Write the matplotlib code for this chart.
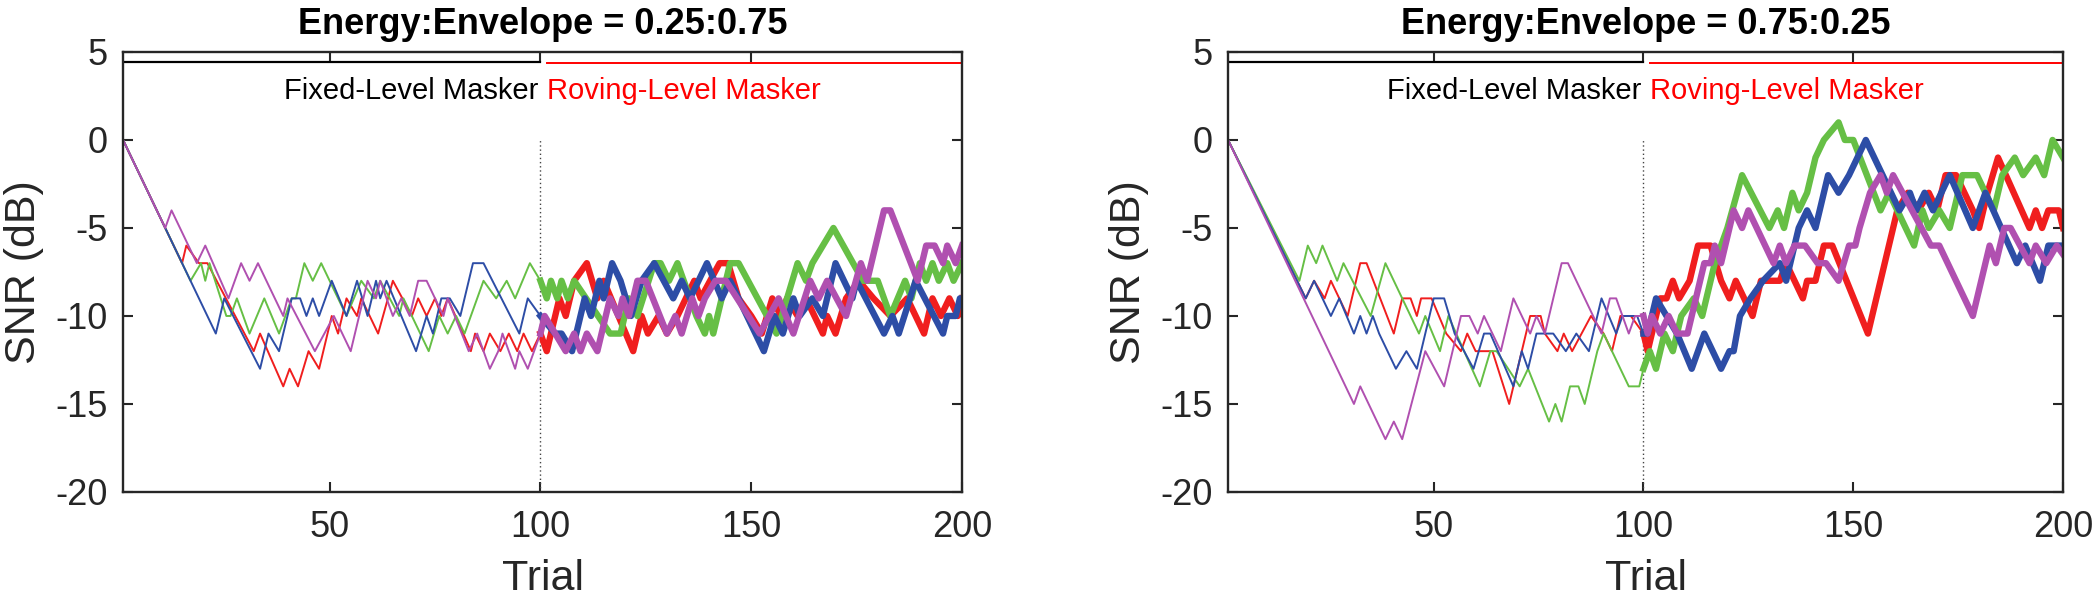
import numpy as np
import matplotlib
matplotlib.use('Agg')
import matplotlib.pyplot as plt

plt.rcParams['font.family'] = ['Liberation Sans', 'DejaVu Sans']
plt.rcParams['axes.unicode_minus'] = False

# staircase tracks, (trial, SNR dB) at the turning points
# left panel: Energy:Envelope = 0.25:0.75
L_MAGENTA = [(1, 0), (11, -5), (12.5, -4), (18.5, -7), (20.5, -6), (26, -9), (29, -7), (31, -8),
             (33, -7), (37, -9), (39, -10), (40, -9), (46.5, -12), (51, -10), (55, -12), (59, -8),
             (61, -9), (62, -8), (65, -10), (67, -9), (69, -10), (71, -8), (73, -8), (77, -10),
             (78, -9), (83, -12), (85, -11), (88, -13), (90, -12), (91, -11), (94, -13), (95, -12),
             (97, -13), (100, -11), (101, -10), (106, -12), (108, -11), (109.5, -12), (111, -11),
             (113.5, -12), (116.5, -9), (118.5, -10), (119.5, -9), (121, -10), (123, -8), (125, -8),
             (130, -11), (132, -10), (133.5, -11), (136, -9), (137.5, -10), (139, -9), (141.5, -8),
             (144, -8), (152, -11), (156.5, -9), (160, -11), (164, -8), (166, -9), (168, -8),
             (172.5, -10), (176, -7), (177.5, -8), (181.5, -4), (183, -4), (189.5, -8), (191.5, -6),
             (193.5, -6), (195.5, -7), (196.5, -6), (198.5, -7), (200, -6)]
L_RED = [(1, 0), (15, -7), (16, -6), (19, -7), (21, -7), (32, -12), (33.5, -11), (39, -14),
         (40.5, -13), (42.5, -14), (45, -12), (47.5, -13), (50.5, -10), (52, -11), (54, -9),
         (56.5, -10), (57.5, -9), (61.5, -11), (65, -8), (69.5, -10), (71, -9), (73, -10), (75, -9),
         (76.5, -10), (78, -9), (83.5, -12), (84.5, -11), (86.5, -12), (88, -11), (90.5, -12),
         (92.5, -11), (94.5, -12), (96, -11), (98, -12), (100, -11), (101.5, -12), (104.5, -9),
         (106, -10), (108, -8), (111, -7), (113.5, -9), (115, -8), (122, -12), (124, -10),
         (125.5, -11), (128, -10), (130, -11), (132.5, -10), (136.5, -8), (138, -9), (142.5, -7),
         (144.5, -7), (147, -9), (150, -10), (152.5, -11), (155, -9), (157, -10), (158.5, -9),
         (161, -10), (163, -9), (167, -11), (168, -10), (170, -11), (172.5, -9), (175.5, -8),
         (179, -9), (183, -10), (187, -9), (191, -11), (193, -9), (195, -10), (197, -9),
         (199, -10), (200, -9)]
L_BLUE = [(1, 0), (23, -11), (25, -9), (33.5, -13), (35.5, -11), (38, -12), (41, -9), (43, -9),
          (44.5, -10), (46, -9), (47.5, -10), (50.5, -8), (54, -10), (56.5, -8), (59, -10), (61, -8),
          (62, -9), (63.5, -8), (70.5, -12), (73, -10), (74.5, -11), (76.5, -9), (78.5, -9),
          (81, -10), (84, -7), (86.5, -7), (95, -11), (97, -9), (100, -10), (103.5, -11),
          (105, -11), (107.5, -12), (110.5, -9), (112, -10), (114, -8), (115, -9), (117, -7),
          (119, -8), (121.5, -10), (124, -8), (127, -7), (131.5, -9), (133.5, -8), (135.5, -9),
          (139.5, -7), (143, -9), (145, -8), (153, -12), (155.5, -10), (157.5, -11), (160, -9),
          (161.5, -10), (164.5, -9), (167, -10), (170, -7), (174, -9), (175, -8), (181.5, -11),
          (183.5, -10), (185, -11), (189, -8), (195.5, -11), (196.5, -10), (198.5, -10),
          (199.5, -9), (200, -9)]
L_GREEN = [(1, 0), (17, -8), (19.5, -7), (20.5, -8), (21.5, -7), (25.5, -10), (26.5, -10), (28, -9),
           (31, -11), (34.5, -9), (38, -11), (41, -9), (42, -9), (44, -7), (46, -8), (48, -7),
           (54, -10), (57.5, -8), (60.5, -9), (62, -8), (66.5, -10), (67.5, -9), (73.5, -12),
           (76, -10), (78, -11), (80, -10), (82, -11), (86.5, -8), (89.5, -9), (92, -8), (94, -9),
           (97.5, -7), (100, -8), (101.5, -9), (102.5, -8), (104, -9), (105, -8), (106.5, -9),
           (108, -8), (116.5, -11), (119, -11), (121, -9), (123, -10), (127, -7), (128.5, -7),
           (130.5, -8), (132.5, -7), (137, -10), (139, -11), (140, -10), (141, -11), (145, -7),
           (147, -7), (156, -11), (161, -7), (163, -8), (164.5, -7), (169.5, -5), (176.5, -8),
           (180, -8), (183, -10), (186.5, -8), (188, -9), (190, -7), (191.5, -8), (193, -7),
           (194.5, -8), (196.5, -7), (198, -8), (200, -7)]

# right panel: Energy:Envelope = 0.75:0.25
R_MAGENTA = [(1, 0), (31, -15), (32.5, -14), (38.5, -17), (40.5, -16), (42.5, -17), (48, -12),
             (52.5, -14), (56.5, -10), (58.5, -10), (60.5, -11), (62, -10), (66, -12), (69, -9),
             (73, -11), (74.5, -10), (76.5, -11), (80.5, -7), (82, -7), (90, -11), (92, -9),
             (93.5, -9), (96.5, -11), (98, -10), (100, -10), (101, -11), (102, -10), (104, -11),
             (106, -10), (108, -11), (110.5, -11), (114.5, -7), (116, -7), (117, -6), (118.5, -7),
             (121.5, -4), (123.5, -5), (125, -4), (131, -7), (132.5, -6), (134, -7), (136, -6),
             (138.5, -6), (141.5, -7), (143.5, -7), (146.5, -8), (149, -6), (150.5, -6), (151.5, -5),
             (154, -3), (156.5, -2), (158, -3), (159.5, -2), (168.5, -6), (170.5, -6), (178.5, -10),
             (182.5, -6), (184, -7), (186, -5), (187.5, -5), (192, -7), (193.5, -6), (196, -7),
             (198.5, -6), (200, -6.5)]
R_RED = [(1, 0), (19.5, -9), (21.5, -8), (24, -9), (25.5, -8), (29.5, -10), (32.5, -7), (34, -7),
         (40.5, -11), (42.5, -9), (44.5, -9), (46, -10), (47, -9), (49.5, -9), (53, -11), (56.5, -12),
         (58, -11), (60, -12), (64, -12), (68, -15), (73, -10), (75.5, -10), (76.5, -11),
         (79.5, -12), (81, -11), (83, -12), (87.5, -10), (90.5, -11), (92.5, -12), (94.5, -10),
         (97, -10), (100, -11), (101, -12), (104, -9), (105.5, -9), (107, -8), (108.5, -9),
         (111, -8), (113, -6), (116, -6), (118.5, -8), (120.5, -9), (122, -8), (124, -9),
         (126, -10), (128, -8), (132.5, -8), (134, -7), (136, -8), (138, -9), (139, -8), (141, -8),
         (143, -6), (145, -6), (153.5, -11), (157.5, -7), (160.5, -4), (163, -3), (165.5, -4),
         (168, -3), (170, -4), (172, -2), (174.5, -2), (178.5, -4), (180, -5), (182, -3),
         (184.5, -1), (192, -5), (193.5, -4), (195, -5), (196.5, -4), (199, -4), (200, -5)]
R_GREEN = [(1, 0), (18, -8), (20, -6), (22, -7), (23.5, -6), (27, -8), (28.5, -7), (35, -10),
           (38.5, -7), (46.5, -11), (48, -10), (51.5, -12), (53.5, -10), (61, -14), (63.5, -12),
           (65, -12), (70.5, -14), (72.5, -13), (77.5, -16), (79, -15), (80.5, -16), (82.5, -14),
           (84.5, -14), (86, -15), (89, -12), (90.5, -11), (96.5, -14), (99, -14), (100, -13),
           (101.5, -12), (103, -13), (105, -11), (107, -12), (109, -10), (112, -9), (114, -10),
           (117, -7), (120, -5), (123.5, -2), (130, -5), (132, -4), (133.5, -5), (135.5, -3),
           (137, -4), (139, -3), (141, -1), (143, 0), (146.5, 1), (148, 0), (150, 0), (156.5, -4),
           (158.5, -3), (164.5, -6), (166.5, -4), (168, -5), (170.5, -4), (173, -5), (176, -2),
           (179.5, -2), (183.5, -4), (185.5, -2), (188.5, -1), (190.5, -2), (193.5, -1),
           (195.5, -2), (197.5, 0), (200, -1)]
R_BLUE = [(1, 0), (19.5, -9), (21.5, -8), (25.5, -10), (27.5, -9), (31, -11), (32.5, -10),
          (34, -11), (35.5, -10), (37, -11), (41, -13), (43.5, -12), (46, -13), (50, -9),
          (52.5, -9), (55, -11), (59.5, -13), (62, -11), (63.5, -11), (69, -14), (71, -12),
          (72.5, -13), (74.5, -11), (78.5, -11), (81.5, -12), (84, -11), (87, -12), (90, -9),
          (93.5, -11), (95, -10), (98.5, -10), (100, -11), (101, -11), (103, -9), (105.5, -10),
          (108, -11), (111.5, -13), (114.5, -11), (118.5, -13), (120.5, -12), (121.5, -12),
          (123, -10), (125.5, -9), (128.5, -8), (132.5, -7), (134, -8), (137, -5), (139, -4),
          (141, -5), (144, -2), (146.5, -3), (149, -2), (153, 0), (161, -4), (163.5, -3),
          (165, -4), (167, -3), (169, -4), (173, -2), (178.5, -5), (181.5, -3), (189, -7),
          (191, -6), (194.5, -8), (196.5, -6), (200, -6)]

TITLES = ['Energy:Envelope = 0.25:0.75', 'Energy:Envelope = 0.75:0.25']
X_TICKS = [50, 100, 150, 200]
Y_TICKS = [5, 0, -5, -10, -15, -20]
SWITCH_TRIAL = 100

COLORS = {'red': '#F01E1E', 'green': '#66BF45', 'blue': '#2D4DA6', 'magenta': '#B050B0'}
PANELS = [
    [(L_RED, 'red'), (L_GREEN, 'green'), (L_BLUE, 'blue'), (L_MAGENTA, 'magenta')],
    [(R_RED, 'red'), (R_GREEN, 'green'), (R_BLUE, 'blue'), (R_MAGENTA, 'magenta')],
]

fig = plt.figure(figsize=(21, 5.98), dpi=100)
positions = [[0.0586, 0.1773, 0.3995, 0.7358], [0.5848, 0.1773, 0.3976, 0.7358]]
axis_color = '#262626'


def draw_track(ax, track, color):
    arr = np.array(track, dtype=float)
    pre = arr[arr[:, 0] <= SWITCH_TRIAL]
    post = arr[arr[:, 0] >= SWITCH_TRIAL]
    ax.plot(pre[:, 0], pre[:, 1], color=color, lw=1.4)
    ax.plot(post[:, 0], post[:, 1], color=color, lw=4.6)


for pos, title, tracks in zip(positions, TITLES, PANELS):
    ax = fig.add_axes(pos)
    ax.set_xlim(1, 200)
    ax.set_ylim(-20, 5)

    # dotted separator between the two masker blocks
    ax.plot([SWITCH_TRIAL, SWITCH_TRIAL], [-20, 0], color='#444444', lw=1.0, ls=(0, (1, 2)))

    # header bars for the two blocks
    ax.plot([1, SWITCH_TRIAL], [4.43, 4.43], color='black', lw=1.6)
    ax.plot([SWITCH_TRIAL + 1.5, 200], [4.4, 4.4], color='red', lw=1.4)
    ax.text(SWITCH_TRIAL - 0.5, 2.8, 'Fixed-Level Masker', ha='right', va='center',
            fontsize=21, color='black')
    ax.text(SWITCH_TRIAL + 1.5, 2.8, 'Roving-Level Masker', ha='left', va='center',
            fontsize=21, color='red')

    for track, cname in tracks:
        draw_track(ax, track, COLORS[cname])

    ax.set_xticks(X_TICKS)
    ax.set_yticks(Y_TICKS)
    ax.tick_params(direction='in', length=7, width=1.5, top=True, right=True,
                   labelsize=26, colors=axis_color)
    ax.tick_params(axis='x', pad=13)
    ax.tick_params(axis='y', pad=11)
    for sp in ax.spines.values():
        sp.set_linewidth(1.7)
        sp.set_color(axis_color)

    ax.set_xlabel('Trial', fontsize=31, color=axis_color, labelpad=10)
    ax.set_ylabel('SNR (dB)', fontsize=31, color=axis_color, labelpad=8)
    ax.set_title(title, fontsize=26, fontweight='bold', pad=13)

fig.savefig('out.png', dpi=100, facecolor='white')
